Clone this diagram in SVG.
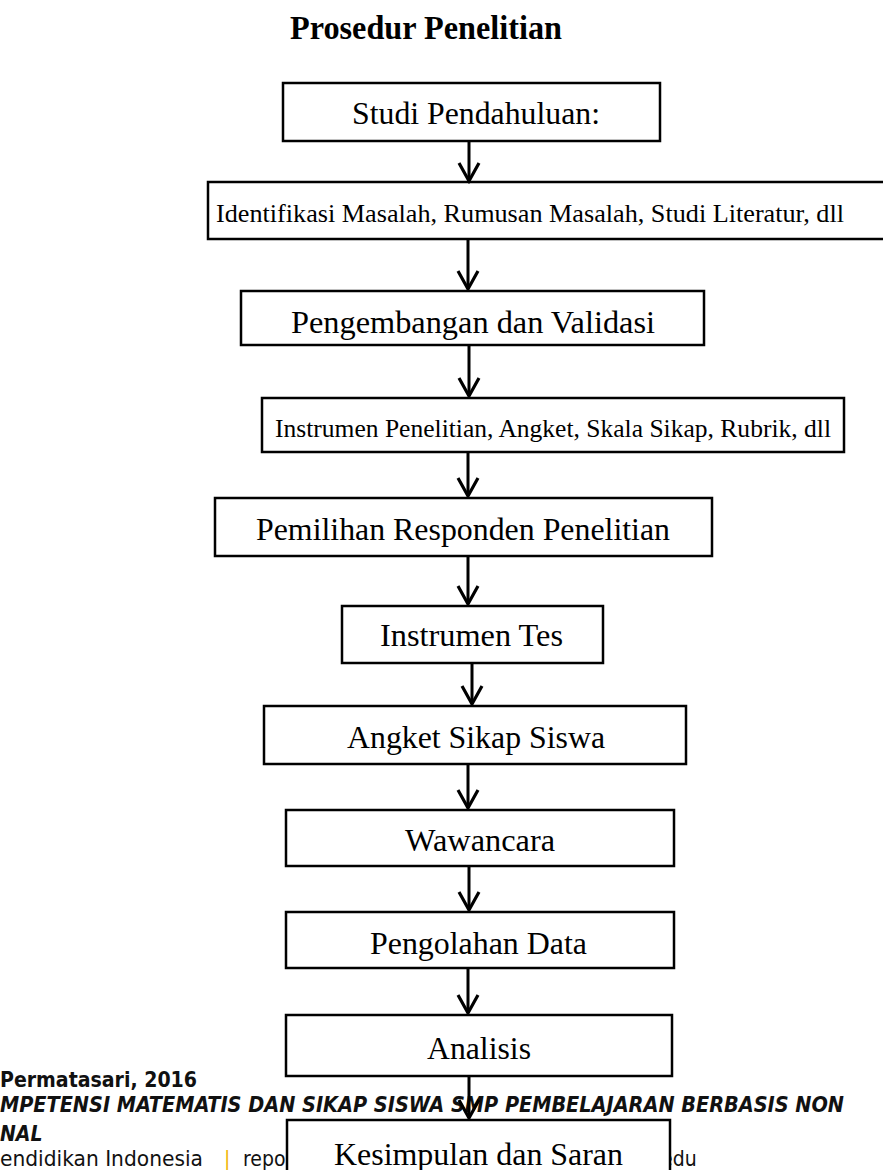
<svg xmlns="http://www.w3.org/2000/svg" width="883" height="1170" viewBox="0 0 883 1170">
<style>
.box{fill:#fff;stroke:#000;stroke-width:2.5}
.t{font-family:"Liberation Serif","Times New Roman",serif;font-size:32px;fill:#000}
.s{font-size:26px}
.title{font-family:"Liberation Serif","Times New Roman",serif;font-size:34px;font-weight:bold;fill:#000}
.conn{stroke:#000;stroke-width:3;fill:none}
.f{font-family:"DejaVu Sans","Liberation Sans",sans-serif;font-size:21px;font-stretch:condensed;fill:#111}
.fb{font-weight:bold}
.fi{font-weight:bold;font-style:italic}
</style>
<defs>
<marker id="v" markerUnits="userSpaceOnUse" markerWidth="26" markerHeight="26" viewBox="0 0 26 26" refX="13" refY="23" orient="0">
<path d="M3,5 L13,23 L23,5" fill="none" stroke="#000" stroke-width="3.2"/>
</marker>
</defs>
<rect width="883" height="1170" fill="#fff"/>
<text class="title" x="290" y="39" textLength="272" lengthAdjust="spacingAndGlyphs">Prosedur Penelitian</text>

<g id="footer">
<text class="f fb" x="0" y="1087" textLength="197" lengthAdjust="spacingAndGlyphs">Permatasari, 2016</text>
<text class="f fi" x="0" y="1112" textLength="844" lengthAdjust="spacingAndGlyphs">MPETENSI MATEMATIS DAN SIKAP SISWA SMP PEMBELAJARAN BERBASIS NON</text>
<text class="f fi" x="0" y="1141">NAL</text>
<text class="f" x="0" y="1166" textLength="203" lengthAdjust="spacingAndGlyphs">endidikan Indonesia</text>
<text class="f" x="224" y="1166" style="fill:#f0b400">|</text>
<text class="f" x="243" y="1166">repo</text>
<text class="f" x="661" y="1166">edu</text>
</g>

<g id="n1"><rect class="box" x="283" y="83" width="377" height="58"/><text class="t" x="352" y="124" textLength="248" lengthAdjust="spacingAndGlyphs">Studi Pendahuluan:</text></g>
<g id="n2"><rect class="box" x="208" y="182" width="690" height="57"/><text class="t s" x="216" y="222" textLength="628" lengthAdjust="spacingAndGlyphs">Identifikasi Masalah, Rumusan Masalah, Studi Literatur, dll</text></g>
<g id="n3"><rect class="box" x="241" y="291" width="463" height="54"/><text class="t" x="291" y="333" textLength="364" lengthAdjust="spacingAndGlyphs">Pengembangan dan Validasi</text></g>
<g id="n4"><rect class="box" x="262" y="398" width="582" height="54"/><text class="t" x="275" y="437" style="font-size:25.5px" textLength="556" lengthAdjust="spacingAndGlyphs">Instrumen Penelitian, Angket, Skala Sikap, Rubrik, dll</text></g>
<g id="n5"><rect class="box" x="215" y="498" width="497" height="58"/><text class="t" x="256" y="540" textLength="414" lengthAdjust="spacingAndGlyphs">Pemilihan Responden Penelitian</text></g>
<g id="n6"><rect class="box" x="342" y="606" width="261" height="57"/><text class="t" x="380" y="646" textLength="183" lengthAdjust="spacingAndGlyphs">Instrumen Tes</text></g>
<g id="n7"><rect class="box" x="264" y="706" width="422" height="58"/><text class="t" x="347" y="748" textLength="258" lengthAdjust="spacingAndGlyphs">Angket Sikap Siswa</text></g>
<g id="n8"><rect class="box" x="286" y="810" width="388" height="56"/><text class="t" x="405" y="851" textLength="150" lengthAdjust="spacingAndGlyphs">Wawancara</text></g>
<g id="n9"><rect class="box" x="286" y="912" width="388" height="56"/><text class="t" x="370" y="954" textLength="217" lengthAdjust="spacingAndGlyphs">Pengolahan Data</text></g>
<g id="n10"><rect class="box" x="286" y="1015" width="386" height="61"/><text class="t" x="427" y="1059" textLength="104" lengthAdjust="spacingAndGlyphs">Analisis</text></g>
<g id="n11"><rect class="box" x="287" y="1120" width="383" height="60"/><text class="t" x="334" y="1165" textLength="289" lengthAdjust="spacingAndGlyphs">Kesimpulan dan Saran</text></g>

<g id="connectors">
<path class="conn" d="M469,141 V181" marker-end="url(#v)"/>
<path class="conn" d="M468,239 V289" marker-end="url(#v)"/>
<path class="conn" d="M469,345 V396" marker-end="url(#v)"/>
<path class="conn" d="M468,452 V496" marker-end="url(#v)"/>
<path class="conn" d="M468,556 V604" marker-end="url(#v)"/>
<path class="conn" d="M472,663 V704" marker-end="url(#v)"/>
<path class="conn" d="M468,764 V808" marker-end="url(#v)"/>
<path class="conn" d="M469,866 V910" marker-end="url(#v)"/>
<path class="conn" d="M468,968 V1013" marker-end="url(#v)"/>
<path class="conn" d="M469,1076 V1118" marker-end="url(#v)"/>
</g>
</svg>
